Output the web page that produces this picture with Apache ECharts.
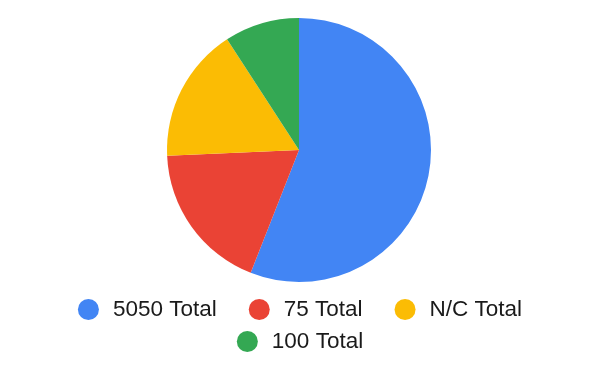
<!DOCTYPE html>
<html><head><meta charset="utf-8">
<script src="https://cdn.jsdelivr.net/npm/echarts@6/dist/echarts.min.js"></script>
<style>html,body{margin:0;padding:0;background:#fff}#c{width:600px;height:371px}</style>
</head><body><div id="c"></div>
<script>
const categories = ['5050 Total', '75 Total', 'N/C Total', '100 Total'];
const values = [61, 20, 18, 10];
const colors = ['#4285f4', '#ea4335', '#fbbc04', '#34a853'];

const chart = echarts.init(document.getElementById('c'));
const legendBase = {
  orient: 'horizontal',
  icon: 'circle',
  itemWidth: 21,
  itemHeight: 21,
  itemGap: 32,
  textStyle: { fontFamily: 'Liberation Sans, Arial, sans-serif', fontSize: 22.5, color: '#1a1a1a', padding: [0, 0, 0, 9] }
};
chart.setOption({
  animation: false,
  color: colors,
  legend: [
    Object.assign({}, legendBase, { data: categories.slice(0, 3), left: 'center', top: 293 }),
    Object.assign({}, legendBase, { data: categories.slice(3), left: 'center', top: 325 })
  ],
  series: [{
    type: 'pie',
    center: [299, 150],
    radius: 132,
    startAngle: 90,
    clockwise: true,
    label: { show: false },
    labelLine: { show: false },
    itemStyle: { borderWidth: 0 },
    emphasis: { disabled: true },
    data: categories.map((n, i) => ({ name: n, value: values[i] }))
  }]
});
</script></body></html>
